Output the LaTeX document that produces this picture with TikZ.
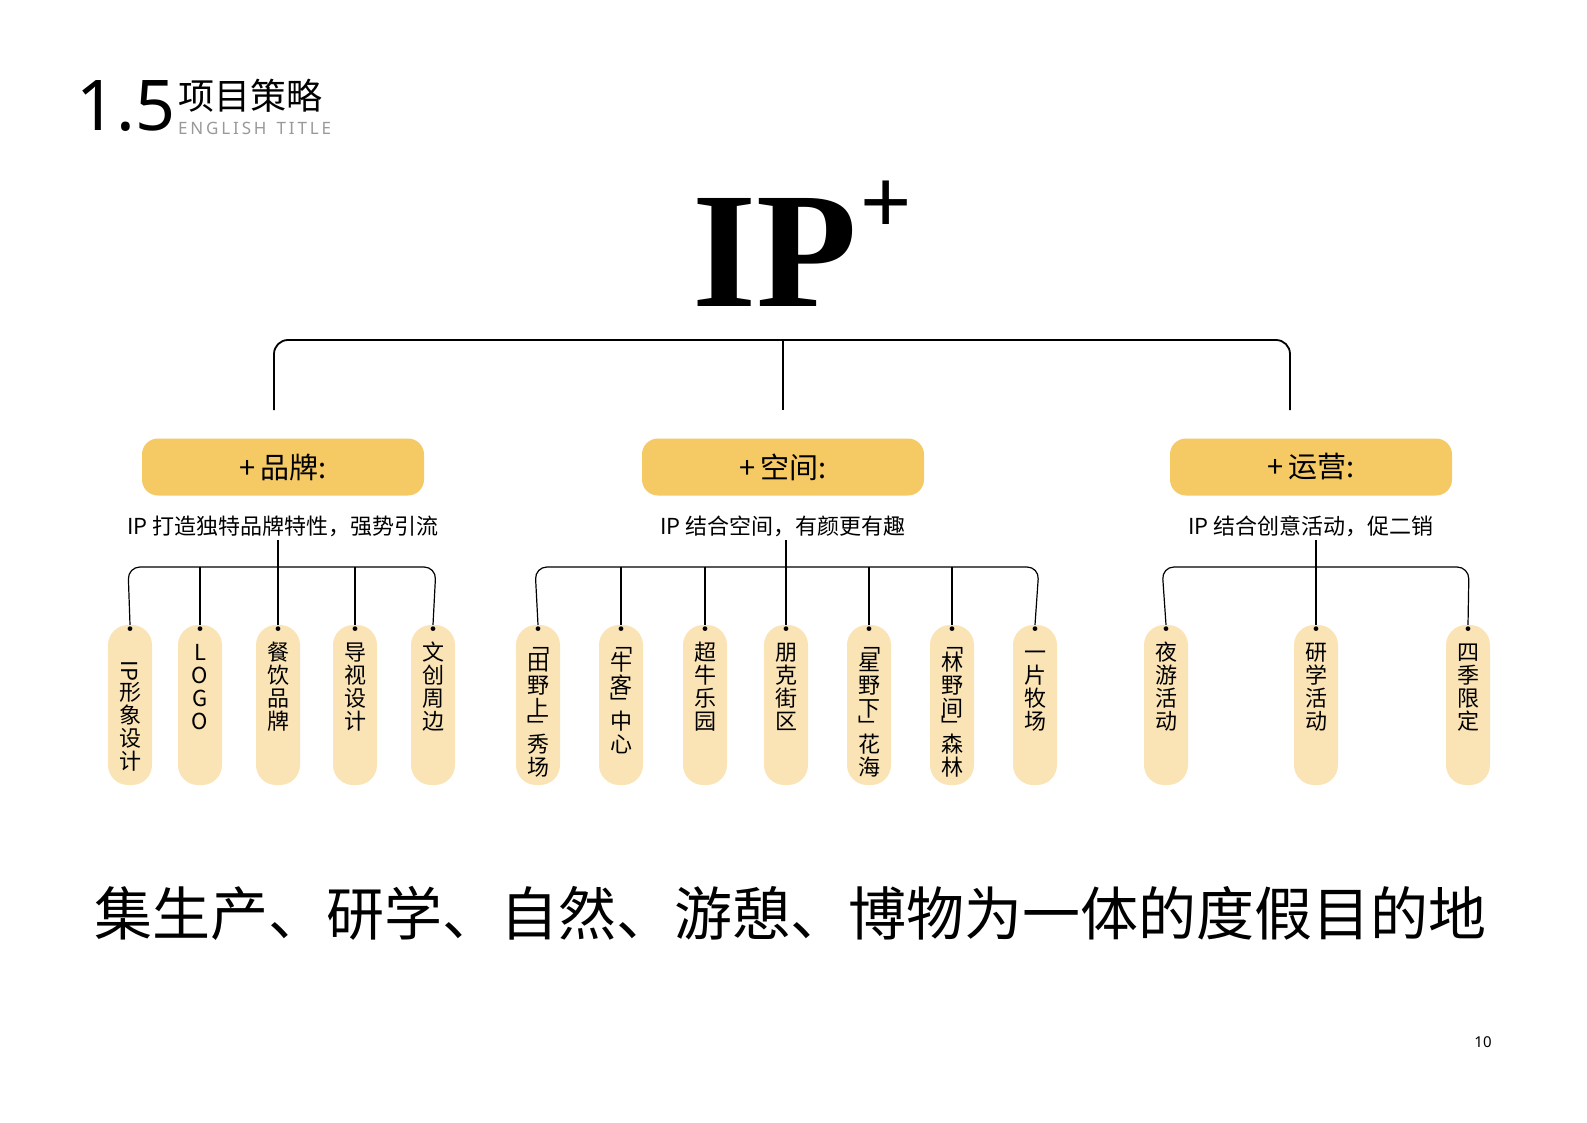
\documentclass[tikz,border=0pt]{standalone}
\usepackage{fontspec}
\setmainfont{Noto Sans CJK SC}
\newfontfamily\serifb{Liberation Serif}
\newfontfamily\latin{Noto Sans}
\definecolor{gold}{HTML}{F5C964}
\definecolor{lightgold}{HTML}{FAE4B6}
\begin{document}
\begin{tikzpicture}[x=1pt,y=-1pt,
  bigbox/.style={fill=gold,rounded corners=16pt,minimum width=282pt,minimum height=57pt,font=\fontsize{29}{30}\selectfont},
  pill/.style={fill=lightgold,rounded corners=20pt,minimum width=44pt,minimum height=160pt},
  vtxt/.style={anchor=north,align=center,font=\fontsize{22}{23}\selectfont,inner sep=0pt},
  ln/.style={line width=1.8pt,rounded corners=14pt},
  sln/.style={line width=1.2pt,rounded corners=12pt}]
\useasboundingbox (0,0) rectangle (1587,1123);
% title
\node[anchor=west,inner sep=0pt,font=\fontsize{70}{70}\selectfont\latin] (num) at (76,106) {1.5};
\node[anchor=west,inner sep=0pt,font=\fontsize{36}{36}\selectfont] (tt) at (178,96) {项目策略};
\node[anchor=west,inner sep=0pt,font=\fontsize{17}{17}\selectfont\latin,text=gray!80] (et) at (178,128) {E\,N\,G\,L\,I\,S\,H\, \,T\,I\,T\,L\,E};
% IP+
\node[inner sep=0pt,font=\fontsize{165}{165}\selectfont\serifb\bfseries] (ip) at (775,252) {IP};
\node[inner sep=0pt,font=\fontsize{90}{90}\selectfont\bfseries\latin] (plus) at (886,208) {+};
% top bracket
\coordinate (tl) at (274,410); \coordinate (tr) at (1290,410);
\coordinate (tm) at (783,340); \coordinate (tmb) at (783,410);
\draw[ln] (tl) -- (274,340) -- (1290,340) -- (tr);
\draw[line width=1.8pt] (tm) -- (tmb);
% boxes
\node[bigbox] (b1) at (283,467) {+\,品牌:};
\node[bigbox] (b2) at (783,467) {+\,空间:};
\node[bigbox] (b3) at (1311,467) {+\,运营:};
\node[font=\fontsize{22}{23}\selectfont] (s1) at (283,526) {IP 打造独特品牌特性，强势引流};
\node[font=\fontsize{22}{23}\selectfont] (s2) at (783,526) {IP 结合空间，有颜更有趣};
\node[font=\fontsize{22}{23}\selectfont] (s3) at (1311,526) {IP 结合创意活动，促二销};
% pills
\foreach \n/\x in {p1/130,p2/200,p3/278,p4/355,p5/433,q1/538,q2/621,q3/705,q4/786,q5/869,q6/952,q7/1035,r1/1166,r2/1316,r3/1468}
  \node[pill] (\n) at (\x,705) {};
\foreach \n/\t in {
  p1/{·\\\rotatebox{-90}{IP}\\形\\象\\设\\计},
  p2/{·\\L\\O\\G\\O},
  p3/{·\\餐\\饮\\品\\牌},
  p4/{·\\导\\视\\设\\计},
  p5/{·\\文\\创\\周\\边},
  q1/{·\\[-8pt]﹁\\[-5pt]田\\野\\上\\[-5pt]﹂\\[-5pt]秀\\场},
  q2/{·\\[-8pt]﹁\\[-5pt]牛\\客\\[-5pt]﹂\\[-5pt]中\\心},
  q3/{·\\超\\牛\\乐\\园},
  q4/{·\\朋\\克\\街\\区},
  q5/{·\\[-8pt]﹁\\[-5pt]星\\野\\下\\[-5pt]﹂\\[-5pt]花\\海},
  q6/{·\\[-8pt]﹁\\[-5pt]林\\野\\间\\[-5pt]﹂\\[-5pt]森\\林},
  q7/{·\\一\\片\\牧\\场},
  r1/{·\\夜\\游\\活\\动},
  r2/{·\\研\\学\\活\\动},
  r3/{·\\四\\季\\限\\定}}
  \node[vtxt] at ([yshift=-2pt]\n.north) {\t};
% small brackets
\draw[sln] (p1.north) -- (128,567) -- (436,567) -- (p5.north);
\foreach \n in {p2,p3,p4} \draw[line width=1.2pt] (\n.north) -- (\n.north |- 0,567);
\draw[line width=1.2pt] (s1.south -| p3.north) -- (p3.north);
\draw[sln] (q1.north) -- (535,567) -- (1039,567) -- (q7.north);
\foreach \n in {q2,q3,q5,q6} \draw[line width=1.2pt] (\n.north) -- (\n.north |- 0,567);
\draw[line width=1.2pt] (s2.south -| q4.north) -- (q4.north);
\draw[sln] (r1.north) -- (1162,567) -- (1469,567) -- (r3.north);
\draw[line width=1.2pt] (s3.south -| r2.north) -- (r2.north);
% bottom
\node[font=\fontsize{58}{60}\selectfont] (bt) at (790,913) {集生产、研学、自然、游憩、博物为一体的度假目的地};
\node[font=\fontsize{15}{15}\selectfont\latin] (pg) at (1483,1042) {10};
\end{tikzpicture}
\end{document}
